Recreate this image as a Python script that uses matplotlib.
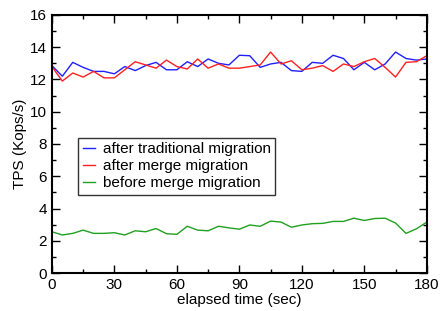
import matplotlib
matplotlib.use("Agg")
import matplotlib.pyplot as plt
from matplotlib.ticker import MultipleLocator

plt.rcParams['font.family'] = ['Liberation Sans', 'DejaVu Sans']

time_sec = list(range(0, 181, 5))
after_traditional = [12.86, 12.2, 13.06, 12.75, 12.5, 12.5, 12.35, 12.8, 12.55, 12.86,
                     13.06, 12.6, 12.6, 13.1, 12.8, 13.27, 13.0, 12.9, 13.5, 13.47,
                     12.75, 12.96, 13.06, 12.55, 12.5, 13.06, 13.0, 13.5, 13.3, 12.6,
                     13.06, 12.6, 12.96, 13.7, 13.3, 13.2, 13.27]
after_merge = [12.8, 11.9, 12.4, 12.15, 12.5, 12.1, 12.1, 12.6, 13.1, 12.9,
               12.7, 13.2, 12.8, 12.65, 13.27, 12.7, 12.96, 12.7, 12.7, 12.8,
               12.9, 13.7, 12.96, 13.16, 12.6, 12.7, 12.86, 12.5, 12.96, 12.8,
               13.1, 13.3, 12.75, 12.15, 13.06, 13.1, 13.47]
before_merge = [2.56, 2.36, 2.46, 2.66, 2.46, 2.46, 2.5, 2.36, 2.62, 2.56,
                2.76, 2.44, 2.4, 2.9, 2.66, 2.62, 2.9, 2.8, 2.72, 2.98,
                2.9, 3.22, 3.16, 2.84, 2.98, 3.06, 3.08, 3.2, 3.2, 3.4,
                3.26, 3.38, 3.4, 3.1, 2.46, 2.74, 3.16]

labels = ["after traditional migration", "after merge migration", "before merge migration"]
colors = ["#2020ff", "#ff2020", "#20a020"]

fig = plt.figure(figsize=(4.4, 3.11), dpi=100)
ax = fig.add_axes([0.118, 0.122, 0.852, 0.830])

for ys, lab, c in zip([after_traditional, after_merge, before_merge], labels, colors):
    ax.plot(time_sec, ys, color=c, lw=1.0, label=lab)

ax.set_xlim(0, 180)
ax.set_ylim(0, 16)
ax.xaxis.set_major_locator(MultipleLocator(30))
ax.xaxis.set_minor_locator(MultipleLocator(15))
ax.yaxis.set_major_locator(MultipleLocator(2))
ax.yaxis.set_minor_locator(MultipleLocator(1))
ax.tick_params(which='both', direction='in', top=True, right=True, labelsize=11, width=1.0)
ax.tick_params(which='major', length=6)
ax.tick_params(which='minor', length=3)
for s in ax.spines.values():
    s.set_linewidth(1.5)

ax.set_xlabel("elapsed time (sec)", fontsize=11, labelpad=1)
ax.set_ylabel("TPS (Kops/s)", fontsize=11, labelpad=2)

leg = ax.legend(loc='upper left', bbox_to_anchor=(0.07, 0.525), fontsize=11,
                handlelength=0.8, handletextpad=0.5, borderpad=0.3, labelspacing=0.2,
                frameon=True, fancybox=False, edgecolor='black', borderaxespad=0)
leg.get_frame().set_linewidth(1.0)

fig.savefig("out.png", dpi=100)
